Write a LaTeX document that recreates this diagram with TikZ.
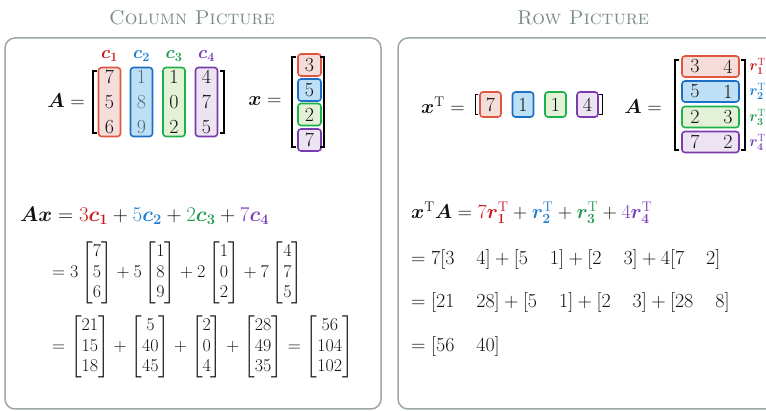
\RequirePackage{fix-cm}
\documentclass[tikz,border=0pt]{standalone}
\usepackage{amsmath}
\usepackage{bm}
\usetikzlibrary{positioning, calc}
\definecolor{frame}{HTML}{9BA8A3}
\definecolor{titlec}{HTML}{7B8C82}
\definecolor{redln}{HTML}{E0573F}
\definecolor{redbg}{HTML}{F6DDDA}
\definecolor{redtx}{HTML}{C8191E}
\definecolor{blueln}{HTML}{1C6FC4}
\definecolor{bluebg}{HTML}{BEE0F6}
\definecolor{bluetx}{HTML}{1E7FD0}
\definecolor{bluenum}{HTML}{4F6B80}
\definecolor{greenln}{HTML}{1DB14B}
\definecolor{greenbg}{HTML}{E3F1D6}
\definecolor{greentx}{HTML}{1E9A4E}
\definecolor{purpleln}{HTML}{7A3BAE}
\definecolor{purplebg}{HTML}{EDE3F3}
\definecolor{purpletx}{HTML}{7B3FB8}
\definecolor{ink}{HTML}{111111}
\newcommand{\rgap}{\hspace{22pt}}

\begin{document}
\begin{tikzpicture}[x=1pt, y=-1pt, font=\fontsize{20}{25}\selectfont, text=ink,
  panel/.style={draw=frame, line width=1.5pt, rounded corners=10pt},
  ttl/.style={text=titlec, font=\fontsize{20}{24}\selectfont\scshape},
  cell/.style={draw=#1ln, fill=#1bg, line width=1.6pt, rounded corners=3pt, inner sep=0pt},
  colbox/.style={cell=#1, minimum width=22pt, minimum height=69pt, align=center},
  vecbox/.style={cell=#1, minimum width=23pt, minimum height=22pt},
  rowcell/.style={cell=#1, minimum width=21pt, minimum height=25pt},
  rowbox/.style={cell=#1, minimum width=57pt, minimum height=21pt},
  brk/.style={draw=black, line width=1.8pt},
  eq/.style={anchor=west, inner sep=0pt},
  bigeq/.style={font=\fontsize{21}{25}\selectfont},
  mateq/.style={font=\fontsize{18}{20.5}\selectfont},
  roweq/.style={font=\fontsize{20}{24}\selectfont}
]
  \useasboundingbox (0,0) rectangle (766,411);
  \draw[panel] (5,38) rectangle (381,409);
  \draw[panel] (398,38) rectangle (790,409);
  \node[ttl] (tcol) at (192,18) {Column Picture};
  \node[ttl] (trow) at (583,18) {Row Picture};

  % column picture
  \node (Alab) at (66,101) {$\bm{A}=$};
  \foreach \n/\xx/\cc/\tc/\ua/\ub/\uc in {1/109.5/red/ink/7/5/6, 2/141.5/blue/bluenum/1/8/9,
      3/174/green/ink/1/0/2, 4/206.5/purple/ink/4/7/5} {
    \node[colbox=\cc, text=\tc] (c\n) at (\xx,102) {\ua\\\ub\\\uc};
    \node[text=\cc tx, font=\fontsize{18}{20}\selectfont, inner sep=0pt] (lc\n) at (\xx,56) {$\bm{c_{\n}}$};
  }
  \draw[brk] (97,71) -- (93,71) -- (93,133) -- (97,133);
  \draw[brk] (220,71) -- (224,71) -- (224,133) -- (220,133);

  \node (xlab) at (265,101) {$\bm{x}=$};
  \foreach \n/\yy/\cc/\v in {1/65/red/3, 2/90/blue/5, 3/114.5/green/2, 4/140/purple/7}
    \node[vecbox=\cc] (x\n) at (309.5,\yy) {\v};
  \draw[brk] (296,57) -- (292,57) -- (292,147) -- (296,147);
  \draw[brk] (320,57) -- (324,57) -- (324,147) -- (320,147);

  \node[eq, bigeq] (ax) at (20,216) {$\bm{Ax} = {\color{redtx}3\bm{c_1}} + {\color{bluetx}5\bm{c_2}}
    + {\color{greentx}2\bm{c_3}} + {\color{purpletx}7\bm{c_4}}$};
  \node[eq, mateq] (ax2) at (52,273)
    {$= 3\begin{bmatrix}7\\5\\6\end{bmatrix} + 5\begin{bmatrix}1\\8\\9\end{bmatrix}
      + 2\begin{bmatrix}1\\0\\2\end{bmatrix} + 7\begin{bmatrix}4\\7\\5\end{bmatrix}$};
  \node[eq, mateq] (ax3) at (52,347)
    {$= \begin{bmatrix}21\\15\\18\end{bmatrix} + \begin{bmatrix}5\\40\\45\end{bmatrix}
      + \begin{bmatrix}2\\0\\4\end{bmatrix} + \begin{bmatrix}28\\49\\35\end{bmatrix}
      = \begin{bmatrix}56\\104\\102\end{bmatrix}$};

  % row picture
  \node (xtlab) at (443,105) {$\bm{x}^{\mathrm{T}}=$};
  \foreach \n/\xx/\cc/\v in {1/490.5/red/7, 2/523/blue/1, 3/555.5/green/1, 4/587.5/purple/4}
    \node[rowcell=\cc] (y\n) at (\xx,104.5) {\v};
  \draw[brk, line width=1pt] (478,95) -- (475,95) -- (475,115) -- (478,115);
  \draw[brk, line width=1pt] (599,95) -- (602,95) -- (602,115) -- (599,115);

  \node (Alab2) at (643,107) {$\bm{A}=$};
  \foreach \n/\yy/\cc/\ua/\ub in {1/66.5/red/3/4, 2/91.5/blue/5/1,
      3/117/green/2/3, 4/142/purple/7/2} {
    \node[rowbox=\cc] (r\n) at (710.5,\yy) {};
    \node[inner sep=1pt] (ra\n) at (695,\yy) {\ua};
    \node[inner sep=1pt] (rb\n) at (728,\yy) {\ub};
    \node[text=\cc tx, font=\fontsize{15}{16}\selectfont, inner sep=0pt] (lr\n) at (757.5,\yy)
      {$\bm{r}^{\mathrm{T}}_{\mathbf{\n}}$};
  }
  \draw[brk] (679,60) -- (675,60) -- (675,150) -- (679,150);
  \draw[brk] (741,60) -- (745,60) -- (745,150) -- (741,150);

  \node[eq, roweq] (xa) at (411,213) {$\bm{x}^{\mathrm{T}}\bm{A} = {\color{redtx}7\bm{r}^{\mathrm{T}}_{\mathbf 1}}
    + {\color{bluetx}\bm{r}^{\mathrm{T}}_{\mathbf 2}} + {\color{greentx}\bm{r}^{\mathrm{T}}_{\mathbf 3}}
    + {\color{purpletx}4\bm{r}^{\mathrm{T}}_{\mathbf 4}}$};
  \node[eq, roweq] (xa2) at (411,260)
    {$= 7[3\rgap 4] + [5\rgap 1] + [2\rgap 3] + 4[7\rgap 2]$};
  \node[eq, roweq] (xa3) at (411,303)
    {$= [21\rgap 28] + [5\rgap 1] + [2\rgap 3] + [28\rgap 8]$};
  \node[eq, roweq] (xa4) at (411,347)
    {$= [56\rgap 40]$};
\end{tikzpicture}
\end{document}
